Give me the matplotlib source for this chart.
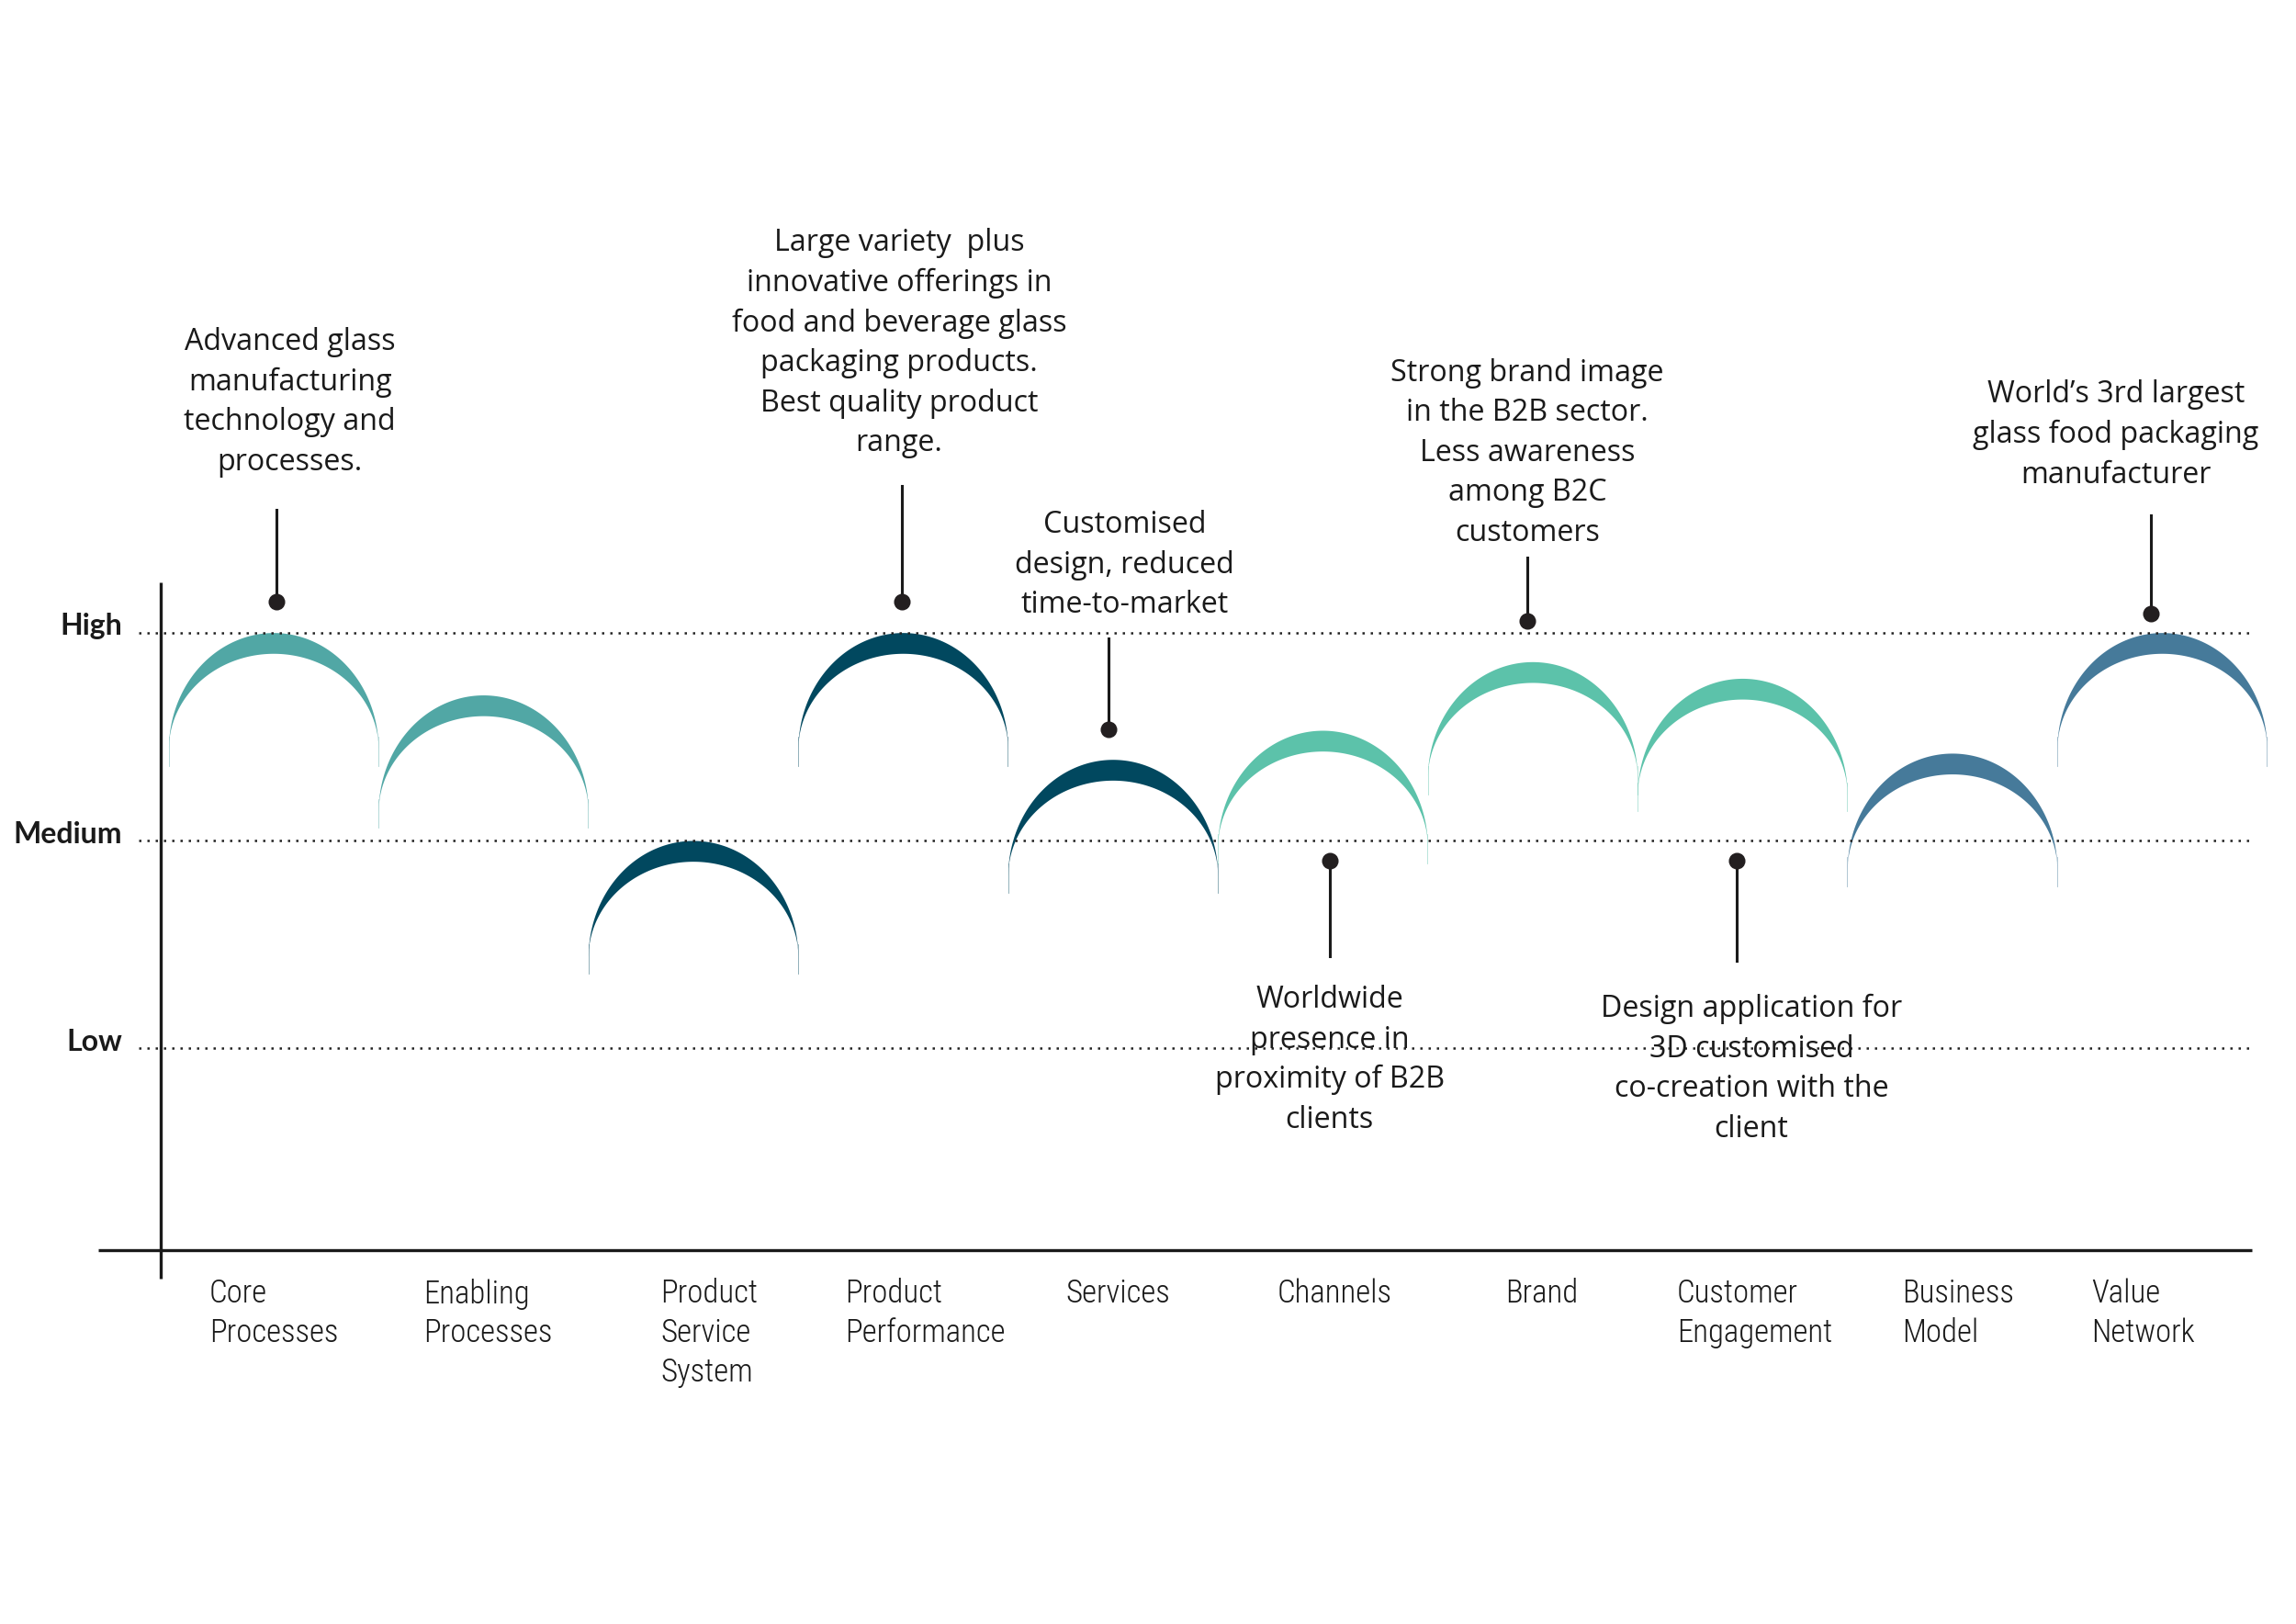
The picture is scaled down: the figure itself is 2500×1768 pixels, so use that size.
#!/usr/bin/env python3
"""Innovation radar style chart: one crescent arc per innovation type,
height = performance level (Low / Medium / High), with call-out notes."""
import numpy as np
import matplotlib
matplotlib.use('Agg')
import matplotlib.pyplot as plt

# ---- data -------------------------------------------------------------
categories = ['Core\nProcesses', 'Enabling\nProcesses', 'Product\nService\nSystem',
              'Product\nPerformance', 'Services', 'Channels', 'Brand',
              'Customer\nEngagement', 'Business\nModel', 'Value\nNetwork']
scores = [3.0, 2.70, 2.0, 3.0, 2.39, 2.53, 2.86, 2.78, 2.42, 3.0]
level_names = ['Low', 'Medium', 'High']
level_values = [1, 2, 3]

notes = [
    'Advanced glass\nmanufacturing\ntechnology and\nprocesses.',
    'Large variety  plus\ninnovative offerings in\nfood and beverage glass\n'
    'packaging products.\nBest quality product\nrange.',
    'Customised\ndesign, reduced\ntime-to-market',
    'Worldwide\npresence in\nproximity of B2B\nclients',
    'Strong brand image\nin the B2B sector.\nLess awareness\namong B2C\ncustomers',
    'Design application for\n3D customised\nco-creation with the\nclient',
    'World\u2019s 3rd largest\nglass food packaging\nmanufacturer',
]

# ---- styling / layout ---------------------------------------------------
arc_colors = ['#51a7a5', '#51a7a5', '#01485f', '#01485f', '#01485f',
              '#5cc2aa', '#5cc2aa', '#5cc2aa', '#467a9a', '#467a9a']
label_x = [0.195, 1.214, 2.345, 3.224, 4.278, 5.283, 6.371, 7.188, 8.262, 9.163]
# (text x, text y, dot x, dot y, line end y)
note_pos = [
    (0.579, 4.109, 0.516, 3.148, 3.592),
    (3.482, 4.391, 3.496, 3.148, 3.704),
    (4.557, 3.324, 4.480, 2.535, 2.972),
    (5.534, 0.944, 5.534, 1.901, 1.444),
    (6.476, 3.863, 6.476, 3.056, 3.359),
    (7.544, 0.901, 7.474, 1.901, 1.423),
    (9.281, 3.951, 9.449, 3.092, 3.563),
]
ARC_H = 0.56     # height of the arc (data units)
ARC_T = 0.10     # thickness at the apex

note_font = ['Open Sans', 'DejaVu Sans']
cat_font = ['Roboto Condensed', 'Open Sans Condensed', 'DejaVu Sans']

fig = plt.figure(figsize=(12.5, 8.84), dpi=200)
ax = fig.add_axes([0, 0, 1, 1])
ax.set_xlim(-0.8025, 10.139)
ax.set_ylim(-1.768, 6.042)
ax.axis('off')

# axes lines
ax.plot([-0.035, -0.035], [-0.106, 3.24], color='#1a1a1a', lw=1.2, solid_capstyle='butt')
ax.plot([-0.335, 9.93], [0.03, 0.03], color='#1a1a1a', lw=1.2, solid_capstyle='butt')

# level grid + labels
for name, v in zip(level_names, level_values):
    ax.plot([-0.14, 9.94], [v, v], color='#222222', lw=0.9, dashes=(1, 2.6))
    ax.text(-0.22, v + 0.03, name, ha='right', va='center', fontsize=11.5,
            family=['Lato', 'DejaVu Sans'], fontweight='bold', color='#1a1a1a')

# crescent arcs
for i, (s, c) in enumerate(zip(scores, arc_colors)):
    cx = i + 0.5
    x = np.linspace(i, i + 1, 600)
    r = np.sqrt(np.clip(1 - ((x - cx) / 0.5) ** 2, 0, None))
    base = s - ARC_H
    ax.fill_between(x, base + (ARC_H - ARC_T) * r, base + ARC_H * r,
                    color=c, lw=0)
    for ex in (i + 0.001, i + 0.999):
        ax.plot([ex, ex], [base + 0.06, base - 0.08], color=c, lw=0.3, alpha=0.5)

# category labels
for lbl, lx in zip(categories, label_x):
    ax.text(lx, -0.105, lbl, ha='left', va='top', fontsize=12.5,
            family=cat_font, fontstretch='condensed', fontweight='light',
            color='#1a1a1a', linespacing=1.35)

# call-outs
for txt, (tx, ty, dx, dy, ly) in zip(notes, note_pos):
    ax.plot([dx, dx], [dy, ly], color='#1a1a1a', lw=1.1)
    ax.plot([dx], [dy], 'o', color='#231f20', ms=5.5)
    ax.text(tx, ty, txt, ha='center', va='center', fontsize=11.6,
            family=note_font, color='#1a1a1a', linespacing=1.42)

fig.savefig('out.png', dpi=200, facecolor='white')
